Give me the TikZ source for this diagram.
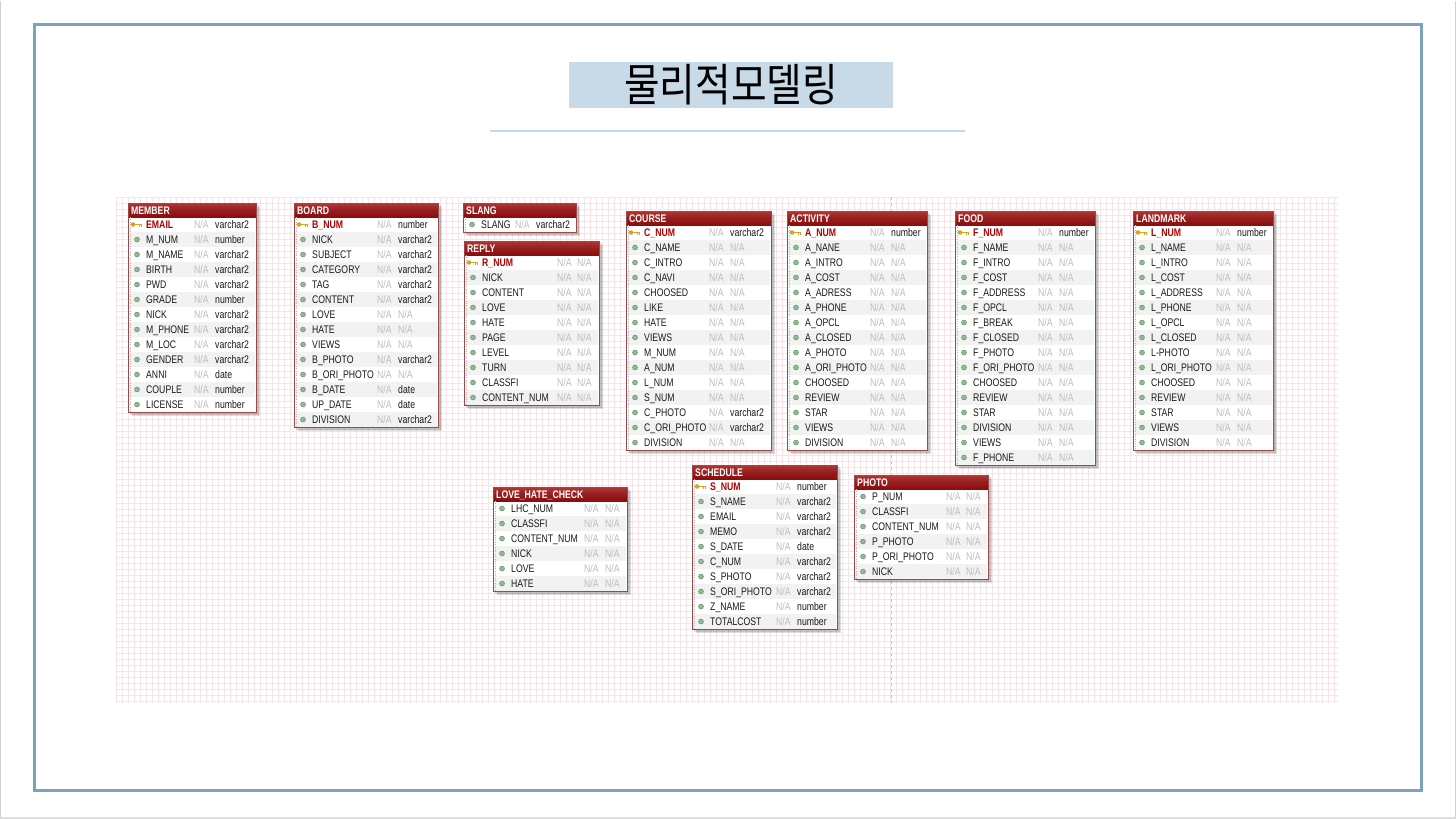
\documentclass[tikz,border=0pt]{standalone}
\usepackage{fontspec}
\usepackage{tikz}
\newfontfamily\erfont[FakeStretch=0.79]{Liberation Sans}
\newfontfamily\krfont[FakeStretch=0.86]{Noto Sans CJK KR}
\definecolor{frameblue}{HTML}{7AA5B8}
\definecolor{titlefill}{HTML}{C8DAE7}
\definecolor{subline}{HTML}{C5D9E8}
\definecolor{gridpink}{HTML}{F8E4E4}
\definecolor{hdtop}{HTML}{B23636}
\definecolor{hdbot}{HTML}{8C0C0C}
\definecolor{tborder}{HTML}{A04848}
\definecolor{rowgray}{HTML}{F2F2F2}
\definecolor{nagray}{HTML}{BDBDBD}
\definecolor{pkred}{HTML}{B00000}
\definecolor{dotgreen}{HTML}{8FBC8F}
\definecolor{keygold}{HTML}{D9A521}
\newcommand{\nacell}{\textcolor{nagray}{N/A}}

\begin{document}
\begin{tikzpicture}[x=1pt,y=-1pt,
    tshadow/.style={black,opacity=0.13},
    thead/.style={top color=hdtop,bottom color=hdbot,middle color=hdbot!92!white},
    tframe/.style={draw=tborder,line width=1},
    rowfill/.style={fill=rowgray},
    htext/.style={anchor=base west,inner sep=0,text=white,font=\erfont\bfseries\fontsize{11}{11}\selectfont},
    ctext/.style={anchor=base west,inner sep=0,text=black!90,font=\erfont\fontsize{11}{11}\selectfont},
    pktext/.style={ctext,text=pkred,font=\erfont\bfseries\fontsize{11}{11}\selectfont},
    natext/.style={ctext,text=nagray},
    dotg/.style={fill=dotgreen,draw=dotgreen!70!black,line width=0.4},
    pkey/.pic={
      \fill[keygold] (0,0) circle (2.3);
      \draw[keygold,line width=1.5] (1.5,0) -- (9,0);
      \draw[keygold,line width=1] (6.5,0) -- (6.5,2) (8.5,0) -- (8.5,2);
    }]
\useasboundingbox (0,0) rectangle (1456,819);
\fill[white] (0,0) rectangle (1456,819);
\draw[gray!35] (0.5,0.5) -- (0.5,817) -- (1455.5,817) -- (1455.5,0.5);
\fill[gray!25] (0,817) rectangle (1456,819);
\draw[frameblue,line width=3] (34,24) rectangle (1421,790);

% title
\node[fill=titlefill,minimum width=324pt,minimum height=46pt,inner sep=0] (title) at (731,85) {\krfont\fontsize{45}{45}\selectfont 물리적모델링};
\draw[subline,line width=1.5] (490,131) -- (965,131);

% grid paper
\foreach \gx in {116,122,...,1338} \draw[gridpink,line width=0.8] (\gx,197) -- (\gx,703);
\foreach \gy in {197,203,...,703} \draw[gridpink,line width=0.8] (116,\gy) -- (1338,\gy);
\draw[gray!45,dashed,line width=0.8] (891,197) -- (891,703);

% MEMBER
\begin{scope}[shift={(128,203)}]
  \fill[tshadow] (2,2) rectangle (131,212);
  \fill[tshadow] (4,4) rectangle (132,213);
  \fill[white] (0,14) rectangle (128,209);
  \foreach \i in {2,4,...,12} \fill[rowfill] (1,15*\i-1) rectangle (127,15*\i+14);
  \shade[thead] (0,0) rectangle (128,14);
  \draw[dotted,gray!60] (2.5,14) -- (2.5,209);
  \draw[tframe] (0,0) rectangle (128,209);
  \node[htext] (member) at (3,11) {MEMBER};
  \pic at (5,21.5) {pkey};
  \node[pktext] (member-1) at (18,25.5) {EMAIL};
  \node[natext] (member-na1) at (66,25.5) {N/A};
  \node[ctext] (member-ty1) at (87,25.5) {varchar2};
  \foreach \nm/\ty [count=\i from 2] in {M\_NUM/number,M\_NAME/varchar2,BIRTH/varchar2,PWD/varchar2,GRADE/number,NICK/varchar2,M\_PHONE/varchar2,M\_LOC/varchar2,GENDER/varchar2,ANNI/date,COUPLE/number,LICENSE/number}{
    \fill[dotg] (9,15*\i+6.5) circle (2.5);
    \node[ctext] (member-\i) at (18,15*\i+10.5) {\nm};
    \node[natext] (member-na\i) at (66,15*\i+10.5) {N/A};
    \node[ctext] (member-ty\i) at (87,15*\i+10.5) {\ty};
  }
\end{scope}

% BOARD
\begin{scope}[shift={(294,203)}]
  \fill[tshadow] (2,2) rectangle (147,227);
  \fill[tshadow] (4,4) rectangle (148,228);
  \fill[white] (0,14) rectangle (144,224);
  \foreach \i in {2,4,...,14} \fill[rowfill] (1,15*\i-1) rectangle (143,15*\i+14);
  \shade[thead] (0,0) rectangle (144,14);
  \draw[dotted,gray!60] (2.5,14) -- (2.5,224);
  \draw[tframe] (0,0) rectangle (144,224);
  \node[htext] (board) at (3,11) {BOARD};
  \pic at (5,21.5) {pkey};
  \node[pktext] (board-1) at (18,25.5) {B\_NUM};
  \node[natext] (board-na1) at (83,25.5) {N/A};
  \node[ctext] (board-ty1) at (104,25.5) {number};
  \foreach \nm/\ty [count=\i from 2] in {NICK/varchar2,SUBJECT/varchar2,CATEGORY/varchar2,TAG/varchar2,CONTENT/varchar2,LOVE/\nacell,HATE/\nacell,VIEWS/\nacell,B\_PHOTO/varchar2,B\_ORI\_PHOTO/\nacell,B\_DATE/date,UP\_DATE/date,DIVISION/varchar2}{
    \fill[dotg] (9,15*\i+6.5) circle (2.5);
    \node[ctext] (board-\i) at (18,15*\i+10.5) {\nm};
    \node[natext] (board-na\i) at (83,15*\i+10.5) {N/A};
    \node[ctext] (board-ty\i) at (104,15*\i+10.5) {\ty};
  }
\end{scope}

% SLANG
\begin{scope}[shift={(463,203)}]
  \fill[tshadow] (2,2) rectangle (116,32);
  \fill[tshadow] (4,4) rectangle (117,33);
  \fill[white] (0,14) rectangle (113,29);
  \shade[thead] (0,0) rectangle (113,14);
  \draw[dotted,gray!60] (2.5,14) -- (2.5,29);
  \draw[tframe] (0,0) rectangle (113,29);
  \node[htext] (slang) at (3,11) {SLANG};
  \fill[dotg] (9,21.5) circle (2.5);
  \node[ctext] (slang-1) at (18,25.5) {SLANG};
  \node[natext] (slang-na1) at (52,25.5) {N/A};
  \node[ctext] (slang-ty1) at (73,25.5) {varchar2};
\end{scope}

% REPLY
\begin{scope}[shift={(464,241)}]
  \fill[tshadow] (2,2) rectangle (138,167);
  \fill[tshadow] (4,4) rectangle (139,168);
  \fill[white] (0,14) rectangle (135,164);
  \foreach \i in {2,4,...,10} \fill[rowfill] (1,15*\i-1) rectangle (134,15*\i+14);
  \shade[thead] (0,0) rectangle (135,14);
  \draw[dotted,gray!60] (2.5,14) -- (2.5,164);
  \draw[tframe] (0,0) rectangle (135,164);
  \node[htext] (reply) at (3,11) {REPLY};
  \pic at (5,21.5) {pkey};
  \node[pktext] (reply-1) at (18,25.5) {R\_NUM};
  \node[natext] (reply-na1) at (93,25.5) {N/A};
  \node[natext] (reply-ty1) at (113,25.5) {N/A};
  \foreach \nm [count=\i from 2] in {NICK,CONTENT,LOVE,HATE,PAGE,LEVEL,TURN,CLASSFI,CONTENT\_NUM}{
    \fill[dotg] (9,15*\i+6.5) circle (2.5);
    \node[ctext] (reply-\i) at (18,15*\i+10.5) {\nm};
    \node[natext] (reply-na\i) at (93,15*\i+10.5) {N/A};
    \node[natext] (reply-ty\i) at (113,15*\i+10.5) {N/A};
  }
\end{scope}

% COURSE
\begin{scope}[shift={(626,211)}]
  \fill[tshadow] (2,2) rectangle (148,242);
  \fill[tshadow] (4,4) rectangle (149,243);
  \fill[white] (0,14) rectangle (145,239);
  \foreach \i in {2,4,...,14} \fill[rowfill] (1,15*\i-1) rectangle (144,15*\i+14);
  \shade[thead] (0,0) rectangle (145,14);
  \draw[dotted,gray!60] (2.5,14) -- (2.5,239);
  \draw[tframe] (0,0) rectangle (145,239);
  \node[htext] (course) at (3,11) {COURSE};
  \pic at (5,21.5) {pkey};
  \node[pktext] (course-1) at (18,25.5) {C\_NUM};
  \node[natext] (course-na1) at (83,25.5) {N/A};
  \node[ctext] (course-ty1) at (104,25.5) {varchar2};
  \foreach \nm/\ty [count=\i from 2] in {C\_NAME/\nacell,C\_INTRO/\nacell,C\_NAVI/\nacell,CHOOSED/\nacell,LIKE/\nacell,HATE/\nacell,VIEWS/\nacell,M\_NUM/\nacell,A\_NUM/\nacell,L\_NUM/\nacell,S\_NUM/\nacell,C\_PHOTO/varchar2,C\_ORI\_PHOTO/varchar2,DIVISION/\nacell}{
    \fill[dotg] (9,15*\i+6.5) circle (2.5);
    \node[ctext] (course-\i) at (18,15*\i+10.5) {\nm};
    \node[natext] (course-na\i) at (83,15*\i+10.5) {N/A};
    \node[ctext] (course-ty\i) at (104,15*\i+10.5) {\ty};
  }
\end{scope}

% ACTIVITY
\begin{scope}[shift={(787,211)}]
  \fill[tshadow] (2,2) rectangle (143,242);
  \fill[tshadow] (4,4) rectangle (144,243);
  \fill[white] (0,14) rectangle (140,239);
  \foreach \i in {2,4,...,14} \fill[rowfill] (1,15*\i-1) rectangle (139,15*\i+14);
  \shade[thead] (0,0) rectangle (140,14);
  \draw[dotted,gray!60] (2.5,14) -- (2.5,239);
  \draw[tframe] (0,0) rectangle (140,239);
  \node[htext] (activity) at (3,11) {ACTIVITY};
  \pic at (5,21.5) {pkey};
  \node[pktext] (activity-1) at (18,25.5) {A\_NUM};
  \node[natext] (activity-na1) at (83,25.5) {N/A};
  \node[ctext] (activity-ty1) at (104,25.5) {number};
  \foreach \nm [count=\i from 2] in {A\_NANE,A\_INTRO,A\_COST,A\_ADRESS,A\_PHONE,A\_OPCL,A\_CLOSED,A\_PHOTO,A\_ORI\_PHOTO,CHOOSED,REVIEW,STAR,VIEWS,DIVISION}{
    \fill[dotg] (9,15*\i+6.5) circle (2.5);
    \node[ctext] (activity-\i) at (18,15*\i+10.5) {\nm};
    \node[natext] (activity-na\i) at (83,15*\i+10.5) {N/A};
    \node[natext] (activity-ty\i) at (104,15*\i+10.5) {N/A};
  }
\end{scope}

% FOOD
\begin{scope}[shift={(955,211)}]
  \fill[tshadow] (2,2) rectangle (143,257);
  \fill[tshadow] (4,4) rectangle (144,258);
  \fill[white] (0,14) rectangle (140,254);
  \foreach \i in {2,4,...,16} \fill[rowfill] (1,15*\i-1) rectangle (139,15*\i+14);
  \shade[thead] (0,0) rectangle (140,14);
  \draw[dotted,gray!60] (2.5,14) -- (2.5,254);
  \draw[tframe] (0,0) rectangle (140,254);
  \node[htext] (food) at (3,11) {FOOD};
  \pic at (5,21.5) {pkey};
  \node[pktext] (food-1) at (18,25.5) {F\_NUM};
  \node[natext] (food-na1) at (83,25.5) {N/A};
  \node[ctext] (food-ty1) at (104,25.5) {number};
  \foreach \nm [count=\i from 2] in {F\_NAME,F\_INTRO,F\_COST,F\_ADDRESS,F\_OPCL,F\_BREAK,F\_CLOSED,F\_PHOTO,F\_ORI\_PHOTO,CHOOSED,REVIEW,STAR,DIVISION,VIEWS,F\_PHONE}{
    \fill[dotg] (9,15*\i+6.5) circle (2.5);
    \node[ctext] (food-\i) at (18,15*\i+10.5) {\nm};
    \node[natext] (food-na\i) at (83,15*\i+10.5) {N/A};
    \node[natext] (food-ty\i) at (104,15*\i+10.5) {N/A};
  }
\end{scope}

% LANDMARK
\begin{scope}[shift={(1133,211)}]
  \fill[tshadow] (2,2) rectangle (143,242);
  \fill[tshadow] (4,4) rectangle (144,243);
  \fill[white] (0,14) rectangle (140,239);
  \foreach \i in {2,4,...,14} \fill[rowfill] (1,15*\i-1) rectangle (139,15*\i+14);
  \shade[thead] (0,0) rectangle (140,14);
  \draw[dotted,gray!60] (2.5,14) -- (2.5,239);
  \draw[tframe] (0,0) rectangle (140,239);
  \node[htext] (landmark) at (3,11) {LANDMARK};
  \pic at (5,21.5) {pkey};
  \node[pktext] (landmark-1) at (18,25.5) {L\_NUM};
  \node[natext] (landmark-na1) at (83,25.5) {N/A};
  \node[ctext] (landmark-ty1) at (104,25.5) {number};
  \foreach \nm [count=\i from 2] in {L\_NAME,L\_INTRO,L\_COST,L\_ADDRESS,L\_PHONE,L\_OPCL,L\_CLOSED,L-PHOTO,L\_ORI\_PHOTO,CHOOSED,REVIEW,STAR,VIEWS,DIVISION}{
    \fill[dotg] (9,15*\i+6.5) circle (2.5);
    \node[ctext] (landmark-\i) at (18,15*\i+10.5) {\nm};
    \node[natext] (landmark-na\i) at (83,15*\i+10.5) {N/A};
    \node[natext] (landmark-ty\i) at (104,15*\i+10.5) {N/A};
  }
\end{scope}

% LOVE_HATE_CHECK
\begin{scope}[shift={(493,487)}]
  \fill[tshadow] (2,2) rectangle (137,107);
  \fill[tshadow] (4,4) rectangle (138,108);
  \fill[white] (0,14) rectangle (134,104);
  \foreach \i in {2,4,6} \fill[rowfill] (1,15*\i-1) rectangle (133,15*\i+14);
  \shade[thead] (0,0) rectangle (134,14);
  \draw[dotted,gray!60] (2.5,14) -- (2.5,104);
  \draw[tframe] (0,0) rectangle (134,104);
  \node[htext] (lovehate) at (3,11) {LOVE\_HATE\_CHECK};
  \foreach \nm [count=\i] in {LHC\_NUM,CLASSFI,CONTENT\_NUM,NICK,LOVE,HATE}{
    \fill[dotg] (9,15*\i+6.5) circle (2.5);
    \node[ctext] (lovehate-\i) at (18,15*\i+10.5) {\nm};
    \node[natext] (lovehate-na\i) at (91,15*\i+10.5) {N/A};
    \node[natext] (lovehate-ty\i) at (112,15*\i+10.5) {N/A};
  }
\end{scope}

% SCHEDULE
\begin{scope}[shift={(692,465)}]
  \fill[tshadow] (2,2) rectangle (148,167);
  \fill[tshadow] (4,4) rectangle (149,168);
  \fill[white] (0,14) rectangle (145,164);
  \foreach \i in {2,4,...,10} \fill[rowfill] (1,15*\i-1) rectangle (144,15*\i+14);
  \shade[thead] (0,0) rectangle (145,14);
  \draw[dotted,gray!60] (2.5,14) -- (2.5,164);
  \draw[tframe] (0,0) rectangle (145,164);
  \node[htext] (schedule) at (3,11) {SCHEDULE};
  \pic at (5,21.5) {pkey};
  \node[pktext] (schedule-1) at (18,25.5) {S\_NUM};
  \node[natext] (schedule-na1) at (84,25.5) {N/A};
  \node[ctext] (schedule-ty1) at (105,25.5) {number};
  \foreach \nm/\ty [count=\i from 2] in {S\_NAME/varchar2,EMAIL/varchar2,MEMO/varchar2,S\_DATE/date,C\_NUM/varchar2,S\_PHOTO/varchar2,S\_ORI\_PHOTO/varchar2,Z\_NAME/number,TOTALCOST/number}{
    \fill[dotg] (9,15*\i+6.5) circle (2.5);
    \node[ctext] (schedule-\i) at (18,15*\i+10.5) {\nm};
    \node[natext] (schedule-na\i) at (84,15*\i+10.5) {N/A};
    \node[ctext] (schedule-ty\i) at (105,15*\i+10.5) {\ty};
  }
\end{scope}

% PHOTO
\begin{scope}[shift={(854,475)}]
  \fill[tshadow] (2,2) rectangle (137,107);
  \fill[tshadow] (4,4) rectangle (138,108);
  \fill[white] (0,14) rectangle (134,104);
  \foreach \i in {2,4,6} \fill[rowfill] (1,15*\i-1) rectangle (133,15*\i+14);
  \shade[thead] (0,0) rectangle (134,14);
  \draw[dotted,gray!60] (2.5,14) -- (2.5,104);
  \draw[tframe] (0,0) rectangle (134,104);
  \node[htext] (photo) at (3,11) {PHOTO};
  \foreach \nm [count=\i] in {P\_NUM,CLASSFI,CONTENT\_NUM,P\_PHOTO,P\_ORI\_PHOTO,NICK}{
    \fill[dotg] (9,15*\i+6.5) circle (2.5);
    \node[ctext] (photo-\i) at (18,15*\i+10.5) {\nm};
    \node[natext] (photo-na\i) at (92,15*\i+10.5) {N/A};
    \node[natext] (photo-ty\i) at (112,15*\i+10.5) {N/A};
  }
\end{scope}
\end{tikzpicture}
\end{document}
